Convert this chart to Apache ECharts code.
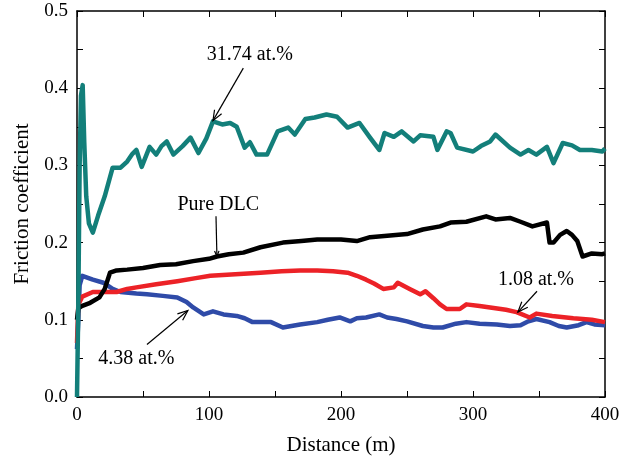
<!DOCTYPE html>
<html>
<head>
<meta charset="utf-8">
<script src="https://cdn.jsdelivr.net/npm/echarts@6/dist/echarts.min.js"></script>
<style>
  html, body { margin: 0; padding: 0; background: #fff; }
  #chart { width: 630px; height: 461px; }
</style>
</head>
<body>
<div id="chart"></div>
<script>
// distance (m), friction coefficient
const teal3174 = [[0,0.0],[1,0.12],[2,0.3],[3,0.39],[4.3,0.404],[5.5,0.33],[7,0.26],[9,0.225],[12,0.213],[16,0.235],[21,0.26],[27,0.297],[33,0.297],[38,0.305],[42,0.315],[45,0.32],[49,0.298],[55,0.324],[60,0.314],[64,0.325],[68,0.331],[73,0.314],[80,0.325],[86,0.336],[92,0.316],[98,0.335],[103,0.357],[110,0.353],[116,0.355],[121,0.35],[127,0.323],[131,0.33],[136,0.314],[144,0.314],[152,0.344],[160,0.349],[165,0.34],[173,0.36],[180,0.362],[189,0.366],[197,0.363],[205,0.349],[214,0.355],[222,0.336],[229,0.32],[233,0.342],[240,0.337],[246,0.344],[255,0.331],[260,0.339],[270,0.337],[273,0.32],[280,0.344],[283,0.342],[288,0.323],[300,0.318],[306,0.325],[313,0.331],[317,0.34],[328,0.323],[336,0.314],[342,0.32],[348,0.314],[356,0.324],[361,0.303],[368,0.329],[375,0.326],[381,0.32],[390,0.32],[398,0.318],[400,0.322]];
const pureDLC = [[0,0.1],[1,0.115],[4,0.118],[10,0.122],[17,0.129],[21,0.14],[25,0.161],[30,0.164],[38,0.165],[50,0.167],[63,0.171],[75,0.172],[88,0.176],[100,0.179],[106,0.182],[115,0.185],[126,0.187],[139,0.194],[156,0.2],[170,0.202],[182,0.204],[200,0.204],[212,0.202],[222,0.207],[235,0.209],[250,0.211],[262,0.217],[275,0.221],[283,0.226],[295,0.227],[310,0.234],[317,0.23],[328,0.232],[336,0.227],[345,0.221],[356,0.226],[358,0.2],[361,0.2],[366,0.21],[371,0.215],[375,0.21],[379,0.202],[383,0.182],[390,0.186],[398,0.185],[400,0.186]];
const red108 = [[0,0.07],[1,0.12],[4,0.13],[12,0.136],[30,0.136],[38,0.14],[45,0.142],[60,0.146],[76,0.15],[90,0.154],[101,0.157],[120,0.159],[139,0.161],[155,0.163],[169,0.164],[182,0.164],[194,0.163],[205,0.161],[212,0.157],[219,0.152],[225,0.147],[232,0.14],[240,0.142],[243,0.148],[252,0.14],[260,0.133],[264,0.137],[270,0.128],[275,0.12],[280,0.114],[290,0.114],[295,0.12],[305,0.118],[313,0.116],[325,0.113],[333,0.11],[343,0.103],[348,0.108],[360,0.105],[376,0.102],[390,0.1],[400,0.097]];
const blue438 = [[0,0.062],[1,0.1],[2,0.145],[4,0.157],[12,0.152],[20,0.148],[27,0.14],[33,0.136],[45,0.134],[53,0.133],[65,0.131],[76,0.129],[83,0.123],[88,0.116],[96,0.107],[103,0.111],[111,0.107],[121,0.105],[127,0.102],[133,0.097],[139,0.097],[147,0.097],[156,0.09],[169,0.094],[182,0.097],[190,0.1],[199,0.103],[207,0.098],[212,0.102],[219,0.103],[229,0.107],[235,0.103],[242,0.101],[250,0.098],[262,0.092],[270,0.09],[277,0.09],[287,0.095],[295,0.097],[305,0.095],[318,0.094],[328,0.092],[336,0.093],[342,0.098],[348,0.101],[358,0.097],[365,0.092],[371,0.09],[380,0.093],[386,0.097],[392,0.094],[400,0.093]];

// annotation text / arrow ends in data coords
const notes = [
  { text: '31.74 at.%', at: [131, 0.443], from: [126, 0.426], to: [103, 0.358], head: 11 },
  { text: 'Pure DLC', at: [107, 0.249], from: [105.3, 0.234], to: [106, 0.182], head: 6 },
  { text: '4.38 at.%', at: [45, 0.050], from: [53, 0.068], to: [84, 0.112], head: 11 },
  { text: '1.08 at.%', at: [347.7, 0.152], from: [348.5, 0.137], to: [334, 0.11], head: 11 }
];

const FONT = '"Liberation Serif", "DejaVu Serif", serif';
const chart = echarts.init(document.getElementById('chart'));

const frameAxis = (extra) => Object.assign({
  type: 'value',
  axisLine: { show: true, onZero: false, lineStyle: { color: '#000', width: 1.5 } },
  axisTick: { show: true, inside: true, length: 6, lineStyle: { color: '#000', width: 1 } },
  minorTick: { show: true, splitNumber: 2, length: 6, lineStyle: { color: '#000', width: 1 } },
  splitLine: { show: false },
  axisLabel: { color: '#000', fontFamily: FONT, fontSize: 19 }
}, extra);

const lineSeries = (data, color) => ({
  type: 'line', data: data, showSymbol: false, smooth: false,
  lineStyle: { color: color, width: 4.5, join: 'round' }, animation: false
});

chart.setOption({
  animation: false,
  grid: { left: 77, right: 25, top: 11, bottom: 63 },
  xAxis: [
    frameAxis({ min: 0, max: 400, interval: 100, position: 'bottom',
      name: 'Distance (m)', nameLocation: 'middle', nameGap: 38,
      nameTextStyle: { color: '#000', fontFamily: FONT, fontSize: 21 },
      axisLabel: { color: '#000', fontFamily: FONT, fontSize: 19, margin: 9 } }),
    frameAxis({ min: 0, max: 400, interval: 100, position: 'top', axisLabel: { show: false } })
  ],
  yAxis: [
    frameAxis({ min: 0, max: 0.5, interval: 0.1, position: 'left',
      name: 'Friction coefficient', nameLocation: 'middle', nameGap: 43,
      nameTextStyle: { color: '#000', fontFamily: FONT, fontSize: 21 },
      axisLabel: { color: '#000', fontFamily: FONT, fontSize: 19, margin: 9,
        formatter: v => v.toFixed(1) } }),
    frameAxis({ min: 0, max: 0.5, interval: 0.1, position: 'right', axisLabel: { show: false } })
  ],
  series: [
    lineSeries(blue438, '#2f4ba8'),
    lineSeries(red108, '#ec2227'),
    lineSeries(pureDLC, '#000000'),
    lineSeries(teal3174, '#137f7a')
  ]
});

function drawNotes() {
  const els = [];
  notes.forEach(n => {
    const p = chart.convertToPixel({ gridIndex: 0 }, n.at);
    const a = chart.convertToPixel({ gridIndex: 0 }, n.from);
    const b = chart.convertToPixel({ gridIndex: 0 }, n.to);
    els.push({ type: 'text', x: p[0], y: p[1], z: 10,
      style: { text: n.text, font: '20px ' + FONT, fill: '#000', align: 'center', verticalAlign: 'middle' } });
    els.push({ type: 'line', z: 10, shape: { x1: a[0], y1: a[1], x2: b[0], y2: b[1] },
      style: { stroke: '#000', lineWidth: 1.2 } });
    const ang = Math.atan2(b[1] - a[1], b[0] - a[0]);
    const L = n.head, W = 0.38;
    els.push({ type: 'polyline', z: 10, shape: { points: [
      [b[0] - L * Math.cos(ang - W), b[1] - L * Math.sin(ang - W)],
      [b[0], b[1]],
      [b[0] - L * Math.cos(ang + W), b[1] - L * Math.sin(ang + W)]
    ] }, style: { stroke: '#000', lineWidth: 1.2, fill: 'none' } });
  });
  chart.setOption({ graphic: els });
}
drawNotes();
</script>
</body>
</html>
